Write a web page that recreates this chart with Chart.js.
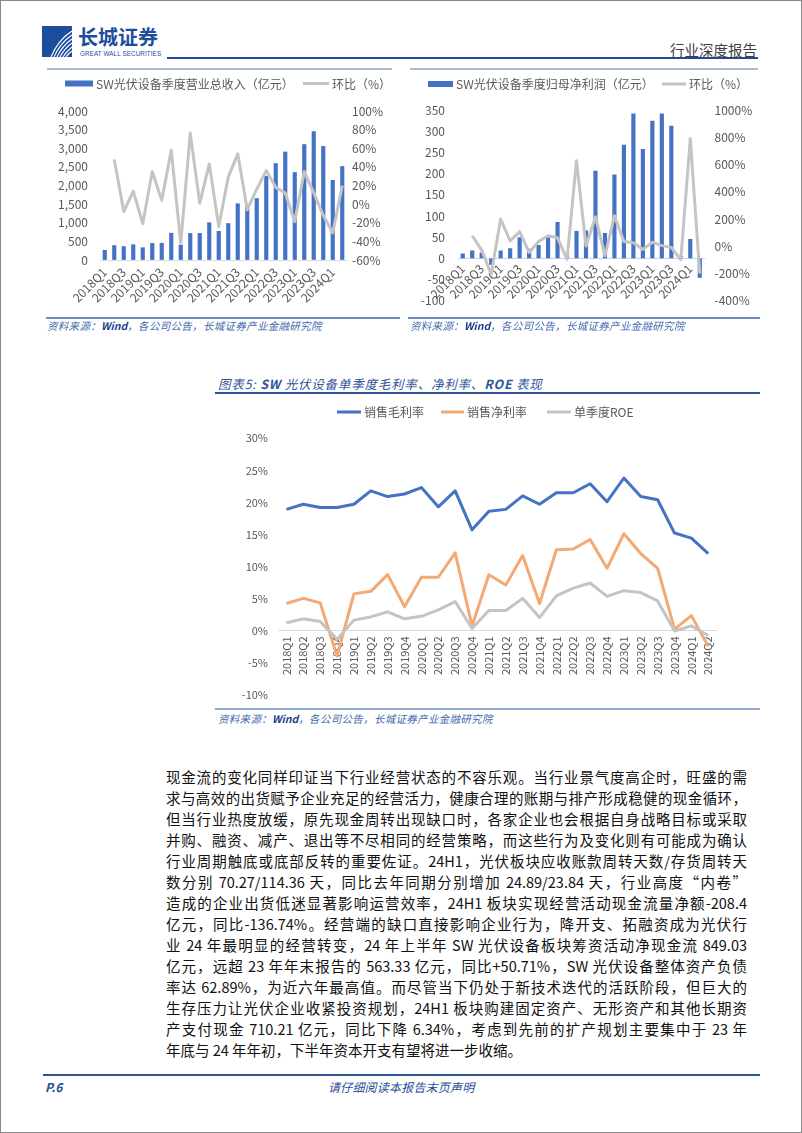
<!DOCTYPE html>
<html lang="zh-CN">
<head>
<meta charset="utf-8">
<title>SW光伏设备 单季度表现</title>
<script src="https://cdn.jsdelivr.net/npm/chart.js@4.4.1/dist/chart.umd.min.js"></script>
<style>
  body { margin: 0; background: #fff; }
  #page { position: relative; width: 802px; height: 1133px; overflow: hidden; background: #fff;
          font-family: "Noto Sans CJK SC", "Noto Sans", sans-serif; }
  #frame { position: absolute; left: 0; top: 0; width: 802px; height: 1133px; box-sizing: border-box; border: 1px solid #8a8a8a; pointer-events: none; }
  .rule { position: absolute; }
  canvas { position: absolute; }
  .src { position: absolute; font-size: 10.5px; font-style: italic; color: #4468AE; letter-spacing: 0.3px; white-space: nowrap; line-height: 14px; }
  .src b { color: #1F3F8C; letter-spacing: 0; }
  #body { position: absolute; left: 166px; top: 765.5px; width: 581px; font-size: 14.5px; color: #111; }
  #body div { height: 21px; line-height: 21px; text-align: justify; text-align-last: justify; }
  #body div.last { text-align-last: left; }
</style>
</head>
<body>
<div id="page">
  <!-- header -->
  <svg class="rule" style="left:42px;top:26px" width="30" height="31" viewBox="0 0 30 31">
    <rect width="30" height="31" fill="#1D4E9E"/>
    <g fill="none" stroke="#fff" stroke-width="1.1">
      <path d="M9 31 Q 16 14 30 5"/>
      <path d="M12 31 Q 18 17 30 9"/>
      <path d="M15 31 Q 20 20 30 13"/>
      <path d="M18 31 Q 22 23 30 17"/>
      <path d="M21 31 Q 24 26 30 21"/>
      <path d="M24 31 Q 26 28 30 25"/>
    </g>
  </svg>
  <div class="rule" style="left:78px;top:24px;font-size:20px;font-weight:700;color:#1D4E9E;line-height:26px;">长城证券</div>
  <div class="rule" style="left:80px;top:50px;font-size:6.3px;color:#1D4E9E;line-height:8px;letter-spacing:0.1px;font-family:'Liberation Sans',sans-serif;">GREAT WALL SECURITIES</div>
  <div class="rule" style="left:167px;top:57px;width:591px;height:2px;background:#24489B;"></div>
  <div class="rule" style="left:670px;top:40px;font-size:14.5px;color:#404040;line-height:20px;">行业深度报告</div>

  <!-- top chart boxes -->
  <div class="rule" style="left:47px;top:68px;width:345px;height:2px;background:#A9B9D2;"></div>
  <div class="rule" style="left:410px;top:68px;width:348px;height:2px;background:#A9B9D2;"></div>
  <div class="rule" style="left:46px;top:317px;width:354px;height:2px;background:#6E8CC0;"></div>
  <div class="rule" style="left:408px;top:317px;width:352px;height:2px;background:#6E8CC0;"></div>
  <canvas id="c1" width="345" height="245" style="left:47px;top:70px"></canvas>
  <canvas id="c2" width="360" height="251" style="left:400px;top:70px"></canvas>
  <div class="src" style="left:47px;top:319px;">资料来源：<b>Wind</b>，各公司公告，长城证券产业金融研究院</div>
  <div class="src" style="left:410px;top:319px;">资料来源：<b>Wind</b>，各公司公告，长城证券产业金融研究院</div>

  <!-- chart 5 -->
  <div class="rule" style="left:218px;top:375px;font-size:12.5px;font-style:italic;color:#2F5597;letter-spacing:0.8px;line-height:18px;white-space:nowrap;">图表5: <b>SW</b> 光伏设备单季度毛利率、净利率、<b>ROE</b> 表现</div>
  <div class="rule" style="left:215px;top:392px;width:545px;height:1.5px;background:#2F5597;"></div>
  <div class="rule" style="left:215px;top:708px;width:545px;height:2px;background:#8FA9CE;"></div>
  <canvas id="c3" width="545" height="313" style="left:215px;top:398px"></canvas>
  <div class="src" style="left:218px;top:712px;">资料来源：<b>Wind</b>，各公司公告，长城证券产业金融研究院</div>

  <!-- body text -->
  <div id="body">
    <div>现金流的变化同样印证当下行业经营状态的不容乐观。当行业景气度高企时，旺盛的需</div>
    <div>求与高效的出货赋予企业充足的经营活力，健康合理的账期与排产形成稳健的现金循环，</div>
    <div>但当行业热度放缓，原先现金周转出现缺口时，各家企业也会根据自身战略目标或采取</div>
    <div>并购、融资、减产、退出等不尽相同的经营策略，而这些行为及变化则有可能成为确认</div>
    <div>行业周期触底或底部反转的重要佐证。24H1，光伏板块应收账款周转天数/存货周转天</div>
    <div>数分别 70.27/114.36 天，同比去年同期分别增加 24.89/23.84 天，行业高度“内卷”</div>
    <div>造成的企业出货低迷显著影响运营效率，24H1 板块实现经营活动现金流量净额-208.4</div>
    <div>亿元，同比-136.74%。经营端的缺口直接影响企业行为，降开支、拓融资成为光伏行</div>
    <div>业 24 年最明显的经营转变，24 年上半年 SW 光伏设备板块筹资活动净现金流 849.03</div>
    <div>亿元，远超 23 年年末报告的 563.33 亿元，同比+50.71%，SW 光伏设备整体资产负债</div>
    <div>率达 62.89%，为近六年最高值。而尽管当下仍处于新技术迭代的活跃阶段，但巨大的</div>
    <div>生存压力让光伏企业收紧投资规划，24H1 板块购建固定资产、无形资产和其他长期资</div>
    <div>产支付现金 710.21 亿元，同比下降 6.34%，考虑到先前的扩产规划主要集中于 23 年</div>
    <div class="last">年底与 24 年年初，下半年资本开支有望将进一步收缩。</div>
  </div>

  <!-- footer -->
  <div class="rule" style="left:43px;top:1074px;width:717px;height:2px;background:#2F5597;"></div>
  <div class="rule" style="left:45px;top:1079px;font-size:12px;font-weight:700;font-style:italic;color:#1F4E9A;line-height:16px;">P.6</div>
  <div class="rule" style="left:328px;top:1079px;font-size:12px;font-style:italic;color:#1F4E9A;line-height:16px;letter-spacing:0.2px;">请仔细阅读本报告末页声明</div>
  <div id="frame"></div>
</div>

<script>
// quarters shared by all three charts
const quarters = ['2018Q1','2018Q2','2018Q3','2018Q4','2019Q1','2019Q2','2019Q3','2019Q4',
  '2020Q1','2020Q2','2020Q3','2020Q4','2021Q1','2021Q2','2021Q3','2021Q4',
  '2022Q1','2022Q2','2022Q3','2022Q4','2023Q1','2023Q2','2023Q3','2023Q4','2024Q1','2024Q2'];

// left chart: revenue (亿元) and QoQ (%)
const revenue = [260,390,360,410,330,446,450,720,400,714,714,1000,770,980,1510,1420,
  1650,2250,2590,2900,2350,3100,3450,3050,2140,2510];
const revenueQoQ = [null,48,-8,14,-21,35,4,58,-42,76,1,43,-24,29,54,-6,
  16,36,18,12,-19,35,12,-12,-31,20];

// right chart: net profit (亿元) and QoQ (%)
const profit = [11,18,13,-14,18,23,49,22,31,50,85,9,64,65,206,59,
  197,267,341,257,324,341,312,5,45,-45];
const profitQoQ = [null,77,-28,-205,200,40,107,-45,35,77,62,-96,628,2,217,-70,
  224,35,26,-23,30,5,-8,-100,790,-200];

// chart 5: margins and ROE (%)
const grossMargin = [18.9,19.7,19.2,19.2,19.7,21.8,20.9,21.3,22.3,19.3,21.8,15.7,18.6,18.9,21.0,19.7,
  21.5,21.5,22.9,20.1,23.8,20.9,20.4,15.2,14.4,12.0];
const netMargin = [4.2,5.0,4.3,-4.0,5.7,6.1,8.7,3.7,8.3,8.3,12.1,0.7,8.7,7.1,11.7,4.2,
  12.6,12.7,14.2,9.7,15.1,12.0,9.7,0.2,2.3,-2.5];
const quarterRoe = [1.2,1.8,1.4,-1.4,1.6,2.1,2.9,1.8,2.2,3.2,4.5,0.3,3.1,3.1,5.0,2.0,
  5.4,6.6,7.4,5.3,6.2,5.9,4.6,-0.1,0.7,-0.8];

// axis ranges [min, max, step]
const revenueAxis = [0, 4000, 500];
const revenuePctAxis = [-60, 100, 20];
const profitAxis = [-100, 350, 50];
const profitPctAxis = [-400, 1000, 200];
const marginAxis = [-10, 30, 5];

const grey = '#595959';
const fam = '"Noto Sans CJK SC", "Noto Sans", sans-serif';

// small legend drawn at fixed spots (bar = filled box, line = stroke)
const swatchLegend = {
  id: 'swatchLegend',
  afterDraw(chart, args, opts) {
    const ctx = chart.ctx;
    ctx.save();
    ctx.font = opts.font;
    ctx.textBaseline = 'middle';
    opts.items.forEach((it, i) => {
      const ds = chart.data.datasets[i];
      if (ds.type === 'bar') {
        ctx.fillStyle = ds.backgroundColor;
        ctx.fillRect(it.x, opts.y - it.h / 2, it.w, it.h);
      } else {
        ctx.strokeStyle = ds.borderColor;
        ctx.lineWidth = ds.borderWidth;
        ctx.beginPath();
        ctx.moveTo(it.x, opts.y);
        ctx.lineTo(it.x + it.w, opts.y);
        ctx.stroke();
      }
      ctx.fillStyle = opts.color;
      ctx.fillText(ds.label, it.x + it.w + 3, opts.y + 0.5);
    });
    ctx.restore();
  }
};

function noGrid() {
  return { color: 'transparent', drawTicks: false };
}

// ---- chart 1: revenue ----
new Chart(document.getElementById('c1'), {
  type: 'bar',
  data: {
    labels: quarters,
    datasets: [
      { type: 'bar', label: 'SW光伏设备季度营业总收入（亿元）', data: revenue, backgroundColor: '#4472C4',
        barThickness: 3.5, yAxisID: 'y', order: 2 },
      { type: 'line', label: '环比（%）', data: revenueQoQ, borderColor: '#C4C4C4', borderWidth: 3,
        pointRadius: 0, tension: 0, yAxisID: 'y1', order: 1, borderJoinStyle: 'round' }
    ]
  },
  options: {
    responsive: false, animation: false,
    layout: { padding: { top: 41, bottom: 5, left: 0, right: 0 } },
    plugins: {
      legend: { display: false }, tooltip: { enabled: false },
      swatchLegend: { y: 13.5, font: '12px ' + fam, color: grey,
        items: [{ x: 18, w: 28, h: 6 }, { x: 256, w: 26 }] }
    },
    scales: {
      x: {
        grid: noGrid(), border: { color: '#D9D9D9' },
        ticks: { autoSkip: false, minRotation: 45, maxRotation: 45, padding: 5, color: grey,
          font: { family: fam, size: 12 }, callback: (v, i) => (i % 2 === 0 ? quarters[i] : '') },
        afterFit: s => { s.height = 50; }
      },
      y: {
        position: 'left', min: revenueAxis[0], max: revenueAxis[1],
        grid: noGrid(), border: { display: false },
        ticks: { stepSize: revenueAxis[2], padding: 12, color: grey, font: { family: fam, size: 12 },
          callback: v => v.toLocaleString('en-US') },
        afterFit: s => { s.width = 53; }
      },
      y1: {
        position: 'right', min: revenuePctAxis[0], max: revenuePctAxis[1],
        grid: noGrid(), border: { display: false },
        ticks: { stepSize: revenuePctAxis[2], padding: 5, color: grey, font: { family: fam, size: 12 },
          callback: v => v + '%' },
        afterFit: s => { s.width = 45; }
      }
    }
  },
  plugins: [swatchLegend]
});

// ---- chart 2: net profit ----
new Chart(document.getElementById('c2'), {
  type: 'bar',
  data: {
    labels: quarters,
    datasets: [
      { type: 'bar', label: 'SW光伏设备季度归母净利润（亿元）', data: profit, backgroundColor: '#4472C4',
        barThickness: 3.5, yAxisID: 'y', order: 2 },
      { type: 'line', label: '环比（%）', data: profitQoQ, borderColor: '#C4C4C4', borderWidth: 3,
        pointRadius: 0, tension: 0, yAxisID: 'y1', order: 1, borderJoinStyle: 'round' }
    ]
  },
  options: {
    responsive: false, animation: false,
    layout: { padding: { top: 40, bottom: 8, left: 0, right: 0 } },
    plugins: {
      legend: { display: false }, tooltip: { enabled: false },
      swatchLegend: { y: 14, font: '12px ' + fam, color: grey,
        items: [{ x: 28, w: 25, h: 6 }, { x: 262, w: 24 }] }
    },
    scales: {
      x: {
        position: { y: 0 },
        grid: noGrid(), border: { color: '#C5D3EA' },
        ticks: { autoSkip: false, minRotation: 45, maxRotation: 45, padding: 3, color: grey,
          font: { family: fam, size: 12 }, callback: (v, i) => (i % 2 === 0 ? quarters[i] : '') }
      },
      y: {
        position: 'left', min: profitAxis[0], max: profitAxis[1],
        grid: noGrid(), border: { display: false },
        ticks: { stepSize: profitAxis[2], padding: 13, color: grey, font: { family: fam, size: 12 } },
        afterFit: s => { s.width = 58; }
      },
      y1: {
        position: 'right', min: profitPctAxis[0], max: profitPctAxis[1],
        grid: noGrid(), border: { display: false },
        ticks: { stepSize: profitPctAxis[2], padding: 10, color: grey, font: { family: fam, size: 12 },
          callback: v => v + '%' },
        afterFit: s => { s.width = 55.5; }
      }
    }
  },
  plugins: [swatchLegend]
});

// ---- chart 5: margins ----
new Chart(document.getElementById('c3'), {
  type: 'line',
  data: {
    labels: quarters,
    datasets: [
      { type: 'line', label: '销售毛利率', data: grossMargin, borderColor: '#4472C4', borderWidth: 3,
        pointRadius: 0, tension: 0, order: 3, borderJoinStyle: 'round' },
      { type: 'line', label: '销售净利率', data: netMargin, borderColor: '#F4A972', borderWidth: 3,
        pointRadius: 0, tension: 0, order: 2, borderJoinStyle: 'round' },
      { type: 'line', label: '单季度ROE', data: quarterRoe, borderColor: '#C4C4C4', borderWidth: 3,
        pointRadius: 0, tension: 0, order: 1, borderJoinStyle: 'round' }
    ]
  },
  options: {
    responsive: false, animation: false,
    layout: { padding: { top: 40.3, bottom: 11, left: 0, right: 43.3 } },
    plugins: {
      legend: { display: false }, tooltip: { enabled: false },
      swatchLegend: { y: 14, font: '12px ' + fam, color: grey,
        items: [{ x: 122, w: 24 }, { x: 226, w: 23 }, { x: 332, w: 24 }] }
    },
    scales: {
      x: {
        position: { y: 0 }, offset: true,
        grid: noGrid(), border: { color: '#D9D9D9' },
        ticks: { autoSkip: false, minRotation: 90, maxRotation: 90, padding: 6, color: grey,
          font: { family: fam, size: 11 } }
      },
      y: {
        min: marginAxis[0], max: marginAxis[1],
        grid: noGrid(), border: { display: false },
        ticks: { stepSize: marginAxis[2], padding: 10, color: grey, font: { family: fam, size: 11 },
          callback: v => v + '%' },
        afterFit: s => { s.width = 63; }
      }
    }
  },
  plugins: [swatchLegend]
});
</script>
</body>
</html>
